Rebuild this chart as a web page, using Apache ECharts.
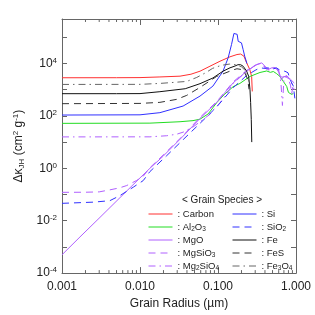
<!DOCTYPE html>
<html><head><meta charset="utf-8">
<script src="https://cdn.jsdelivr.net/npm/echarts@6/dist/echarts.min.js"></script>
<style>html,body{margin:0;padding:0;background:#fff}#c{width:315px;height:315px}</style>
</head><body><div id="c"></div>
<script>
// ---- data: [grain radius (um), delta kappa_JH (cm^2 g^-1)] ----
const carbon = [[0.001,2860],[0.005,2870],[0.01,2900],[0.018,3070],[0.0326,3290],[0.045,3900],[0.0588,5090],[0.0789,7890],[0.106,12200],[0.1425,18000],[0.175,22000],[0.195,23000],[0.215,19000],[0.233,10600],[0.255,6000],[0.27,3200],[0.275,860]];
const al2o3 = [[0.001,52],[0.0134,53],[0.0326,60],[0.0478,66],[0.0588,75],[0.075,120],[0.0962,320],[0.12,650],[0.156,1300],[0.191,1740],[0.257,3210],[0.3455,4550],[0.421,5190],[0.47,4600],[0.512,4960],[0.56,4170],[0.6235,3210],[0.688,2070],[0.76,1330],[0.8,790],[0.838,940],[0.88,662],[0.925,720]];
const mgo = [[0.001,5.0e-4],[0.0017,2.4e-3],[0.00307,0.0134],[0.00554,0.076],[0.01,0.43],[0.0134,1.0],[0.0198,2.9],[0.0358,17],[0.0588,80],[0.0962,330],[0.157,1845],[0.233,5090],[0.313,9170],[0.364,10600],[0.4,7890],[0.44,5910],[0.49,6870],[0.536,6870],[0.59,5910],[0.65,2450],[0.7,3200],[0.75,3000],[0.85,2500],[0.95,1800]];
const mgsio3 = [[0.001,0.121],[0.002,0.122],[0.003,0.126],[0.0041,0.15],[0.0055,0.18],[0.00676,0.22],[0.009,0.34],[0.011,0.5],[0.0134,1.05],[0.0198,3.2],[0.0358,18],[0.0588,88],[0.0962,350],[0.157,2000],[0.233,5500],[0.3,8500],[0.34,9800],[0.38,8000],[0.42,6000],[0.47,7000],[0.52,7200],[0.57,6000],[0.62,4000],[0.66,3000],[0.7,3500],[0.75,3300],[0.8,2500],[0.85,1500],[0.88,700],[0.92,1500],[0.97,1200]];
const mg2sio4 = [[0.001,15.8],[0.0134,15.9],[0.022,17.5],[0.0295,20],[0.0358,24],[0.048,38],[0.0588,60],[0.0788,115],[0.09,190],[0.1,260],[0.12,500],[0.157,1750],[0.233,5000],[0.3,8500],[0.35,10000],[0.4,7500],[0.45,5500],[0.5,6500],[0.56,7000],[0.6,5000],[0.64,2000],[0.67,250],[0.7,2500],[0.75,3500],[0.8,3000],[0.85,2000],[0.9,1500],[0.95,1000]];
const si = [[0.001,108],[0.01,110],[0.018,133],[0.0357,238],[0.0588,571],[0.086,1372],[0.116,5090],[0.135,16500],[0.149,52700],[0.16,140000],[0.168,165000],[0.176,130000],[0.1815,70500],[0.2,61200],[0.21,34000],[0.22,19000],[0.235,10000]];
const sio2 = [[0.001,0.046],[0.0025,0.051],[0.0041,0.058],[0.0055,0.09],[0.0082,0.19],[0.011,0.34],[0.0134,0.75],[0.0219,3.0],[0.0358,12.5],[0.0588,52],[0.0962,220],[0.157,1200],[0.233,3500],[0.3,5500],[0.345,6870],[0.4,6500],[0.44,6870],[0.49,5910],[0.56,6870],[0.65,5090],[0.72,5090],[0.79,4430],[0.84,2450],[0.925,1370],[0.97,430]];
const fe = [[0.001,705],[0.005,705],[0.01,710],[0.018,840],[0.038,1090],[0.0588,1700],[0.086,2800],[0.116,5090],[0.1425,6850],[0.165,8000],[0.18,9000],[0.195,9000],[0.21,7890],[0.233,5090],[0.247,3290],[0.257,1026],[0.262,320],[0.267,74],[0.271,10]];
const fes = [[0.001,293],[0.01,300],[0.018,329],[0.0295,428],[0.0397,607],[0.0588,1222],[0.096,3210],[0.156,5700],[0.175,6300],[0.2,5900],[0.22,4500],[0.24,2500],[0.25,1030]];
const fe3o4 = [[0.001,1590],[0.01,1600],[0.018,1740],[0.0397,2070],[0.0534,2940],[0.07,4500],[0.085,6500],[0.11,8500],[0.14,9500],[0.17,9000],[0.2,7500],[0.23,5000],[0.25,2000]];

const speciesNames = ['Carbon','Al2O3','MgO','MgSiO3','Mg2SiO4','Si','SiO2','Fe','FeS','Fe3O4'];
const leftLegend = ['Carbon','Al2O3','MgO','MgSiO3','Mg2SiO4'];
const rightLegend = ['Si','SiO2','Fe','FeS','Fe3O4'];
const xTickLabels = ['0.001','0.010','0.100','1.000'];
const yLabelExps = [-4,-2,0,2,4];
const xMinorTicks = [0.002,0.003,0.004,0.005,0.006,0.007,0.008,0.009,0.02,0.03,0.04,0.05,0.06,0.07,0.08,0.09,0.2,0.3,0.4,0.5,0.6,0.7,0.8,0.9];

const seriesData = {Carbon:carbon, Al2O3:al2o3, MgO:mgo, MgSiO3:mgsio3, Mg2SiO4:mg2sio4, Si:si, SiO2:sio2, Fe:fe, FeS:fes, Fe3O4:fe3o4};
const DASH = [7,5], DASHDOT = [7,4,1.5,4];
const styles = {
  Carbon:{c:'#ff3030',t:'solid'}, Al2O3:{c:'#22dd22',t:'solid'}, MgO:{c:'#b060ff',t:'solid'},
  MgSiO3:{c:'#b060ff',t:DASH}, Mg2SiO4:{c:'#b060ff',t:DASHDOT},
  Si:{c:'#3030ff',t:'solid'}, SiO2:{c:'#3030ff',t:DASH},
  Fe:{c:'#111111',t:'solid'}, FeS:{c:'#333333',t:DASH}, Fe3O4:{c:'#666666',t:DASHDOT}
};

const FONT = "'Liberation Sans', Arial, sans-serif";
const XMIN = 0.001, XMAX = 1, YMIN = 1e-4, YMAX = 5e5;

function subify(n){ return ': ' + n.replace(/(\d)/g,'{s|$1}'); }
function legendItems(list){
  return list.map(n => ({name:n, itemStyle:{opacity:0, color:styles[n].c},
    lineStyle:{color:styles[n].c, type:styles[n].t, width:1, opacity:1}}));
}

const chart = echarts.init(document.getElementById('c'), null, {renderer:'canvas'});

const axisCommon = {
  type:'log', logBase:10,
  axisLine:{show:true, lineStyle:{color:'#666', width:1}},
  axisTick:{show:true, inside:true, length:6, lineStyle:{color:'#666'}},
  splitLine:{show:false}, minorTick:{show:false}
};

const lineSeries = speciesNames.map(n => ({
  name:n, type:'line', data:seriesData[n], symbol:'none', smooth:false,
  lineStyle:{color:styles[n].c, type:styles[n].t, width:1},
  itemStyle:{color:styles[n].c},
  xAxisIndex:0, yAxisIndex:0, z:3, animation:false
}));

const minorTickSeries = {
  type:'custom', silent:true, z:10, animation:false, clip:false,
  xAxisIndex:0, yAxisIndex:0,
  data: xMinorTicks.map(v => [v, YMIN]),
  encode:{x:0, y:1},
  renderItem:(params, api) => {
    const v = api.value(0);
    const b = api.coord([v, YMIN]);
    const t = api.coord([v, YMAX]);
    const st = {stroke:'#666', lineWidth:1};
    return {type:'group', children:[
      {type:'line', shape:{x1:b[0], y1:b[1], x2:b[0], y2:b[1]-3}, style:st},
      {type:'line', shape:{x1:t[0], y1:t[1], x2:t[0], y2:t[1]+3}, style:st}
    ]};
  }
};

const legendCommon = {
  orient:'vertical', itemWidth:24, itemHeight:10, itemGap:2, padding:0,
  selectedMode:false,
  formatter: subify,
  textStyle:{fontFamily:FONT, fontSize:9.5, color:'#222', lineHeight:11,
    rich:{s:{fontFamily:FONT, fontSize:6.5, lineHeight:6, verticalAlign:'bottom', color:'#222'}}}
};

chart.setOption({
  animation:false,
  backgroundColor:'#fff',
  grid:{left:62, right:19, top:19, bottom:40, containLabel:false},
  title:{text:'< Grain Species >', left:182, top:195, padding:0,
    textStyle:{fontFamily:FONT, fontSize:10, fontWeight:'normal', color:'#222'}},
  legend:[
    Object.assign({}, legendCommon, {data:legendItems(leftLegend), left:148, top:208.5}),
    Object.assign({}, legendCommon, {data:legendItems(rightLegend), left:232, top:208.5})
  ],
  xAxis:[
    Object.assign({}, axisCommon, {min:XMIN, max:XMAX, interval:1, position:'bottom',
      name:'Grain Radius (µm)', nameLocation:'middle', nameGap:22,
      nameTextStyle:{fontFamily:FONT, fontSize:12, color:'#222'},
      axisLabel:{show:true, interval:0, margin:8, fontFamily:FONT, fontSize:12, color:'#222',
        formatter:(v)=>{ const e=Math.log10(v); const r=Math.round(e); if(Math.abs(e-r)>1e-6) return ''; return xTickLabels[r+3]||''; }}}),
    Object.assign({}, axisCommon, {min:XMIN, max:XMAX, interval:1, position:'top', axisLabel:{show:false}})
  ],
  yAxis:[
    Object.assign({}, axisCommon, {min:YMIN, max:YMAX, interval:1, position:'left',
      axisTick:{show:true, inside:true, length:5, lineStyle:{color:'#666'}},
      name:'Δκ{s|JH} (cm{p|2} g{p|-1})', nameLocation:'middle', nameGap:34, nameRotate:90,
      nameTextStyle:{fontFamily:FONT, fontSize:12, color:'#222', lineHeight:14,
        rich:{s:{fontFamily:FONT, fontSize:8, lineHeight:8, verticalAlign:'bottom', color:'#222'},
              p:{fontFamily:FONT, fontSize:8, lineHeight:8, verticalAlign:'top', color:'#222'}}},
      axisLabel:{show:true, interval:0, margin:5, fontFamily:FONT, fontSize:12, color:'#222', lineHeight:14,
        rich:{p:{fontFamily:FONT, fontSize:8, lineHeight:8, verticalAlign:'top', color:'#222'}},
        formatter:(v)=>{ const e=Math.log10(v); const r=Math.round(e); if(Math.abs(e-r)>1e-6) return ''; return yLabelExps.indexOf(r)>=0 ? '10{p|'+r+'}' : ''; }}}),
    Object.assign({}, axisCommon, {min:YMIN, max:YMAX, interval:1, position:'right',
      axisTick:{show:true, inside:true, length:5, lineStyle:{color:'#666'}}, axisLabel:{show:false}})
  ],
  series: lineSeries.concat([minorTickSeries])
});
</script></body></html>
